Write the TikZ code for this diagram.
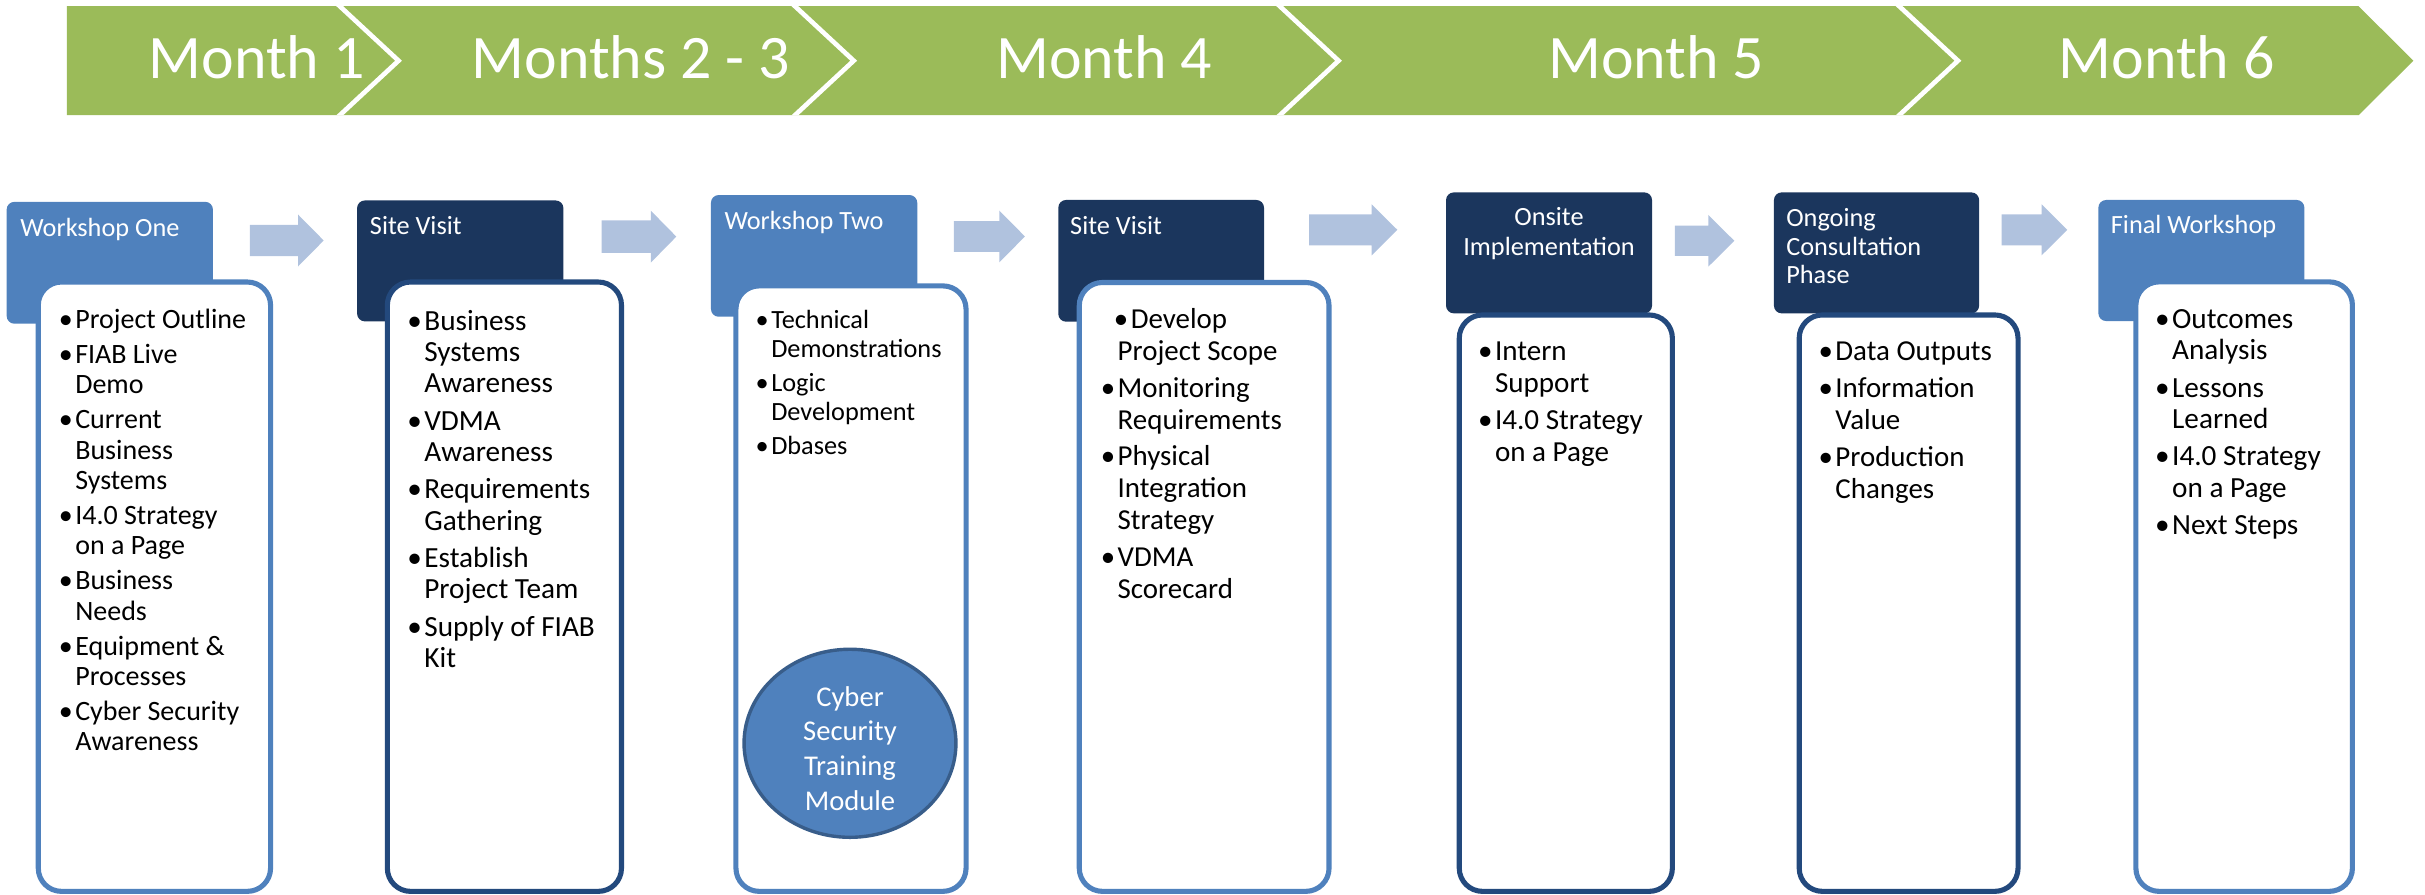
\documentclass[tikz,border=0pt]{standalone}
\usepackage{fontspec}
\setmainfont{Carlito}
\usetikzlibrary{shapes.geometric}
\definecolor{bannergreen}{HTML}{9BBB59}
\definecolor{midblue}{HTML}{4F81BD}
\definecolor{navyhead}{HTML}{1B365D}
\definecolor{navyline}{HTML}{23497D}
\definecolor{arrowblue}{HTML}{B0C2DE}
\definecolor{ellline}{HTML}{385D8A}
\newcommand\itm{\noindent\llap{•\kern1.6pt}}
\newcommand\itemsbox[4]{\parbox[t]{200pt}{\fontsize{#1}{#2}\selectfont\setlength\parskip{#3}#4}}
\newcommand\blockarr[6]{\fill[arrowblue] (#1,#4-#5) -- (#2,#4-#5) -- (#2,#4-#6) -- (#3,#4) -- (#2,#4+#6) -- (#2,#4+#5) -- (#1,#4+#5) -- cycle;}
\tikzset{
  headbox/.style={rounded corners=5pt},
  contentbox/.style={line width=3.3pt, fill=white, rounded corners=15pt},
  htext/.style={anchor=base west, inner sep=0pt, text=white, font=\fontsize{17}{18.5}\selectfont},
  btext/.style={anchor=base west, inner sep=0pt, text=black},
  month/.style={anchor=base, inner sep=0pt, text=white, font=\fontsize{40}{48}\selectfont},
}
\begin{document}
\begin{tikzpicture}[x=1pt,y=-1pt]
\useasboundingbox (0,0) rectangle (1568,578.7);

% ---------- banner ----------
\begin{scope}
\path[fill=bannergreen] (43.3,4) -- (1525,4) -- (1560.5,39.25) -- (1525,74.5) -- (43.3,74.5) -- cycle;
\clip (43.3,4) -- (1525,4) -- (1560.5,39.25) -- (1525,74.5) -- (43.3,74.5) -- cycle;
\foreach \t in {257.7,552,865.5,1266}
  \draw[white, line width=3pt] (\t-42.3,0) -- (\t,39.25) -- (\t-42.3,78.5);
\end{scope}
\node[month] (m1) at (166,51) {Month 1};
\node[month] (m23) at (408,51) {Months 2 - 3};
\node[month] (m4) at (714,51) {Month 4};
\node[month] (m5) at (1071,51) {Month 5};
\node[month] (m6) at (1401,51) {Month 6};

% ---------- arrows ----------
\blockarr{161.6}{192.8}{209.3}{155.5}{10.15}{16.7}
\blockarr{389}{420.8}{437.3}{153.0}{10.55}{16.8}
\blockarr{616.8}{646.2}{662.7}{152.9}{10}{16.7}
\blockarr{846.4}{886.9}{903.5}{148.6}{10}{16.5}
\blockarr{1083}{1104.6}{1121.4}{155.7}{9.8}{16.7}
\blockarr{1294.2}{1320.1}{1336.7}{148.6}{10}{16.5}

% ---------- stage 1 ----------
\fill[midblue, headbox] (4.3,130.5) rectangle (137.7,209.3);
\node[htext] (h1) at (13,153.2) {Workshop One};
\draw[contentbox, draw=midblue] (24.75,182.35) rectangle (174.95,576.35);
\node[btext] (b1) at (48.5,212.2) {\itemsbox{18.1}{19.5}{3.3pt}{%
\itm Project Outline\par
\itm FIAB Live\\Demo\par
\itm Current\\Business\\Systems\par
\itm I4.0 Strategy\\on a Page\par
\itm Business\\Needs\par
\itm Equipment \&\\Processes\par
\itm Cyber Security\\Awareness}};

% ---------- stage 2 ----------
\fill[navyhead, headbox] (230.9,129.6) rectangle (364.3,207.8);
\node[htext] (h2) at (239,151.8) {Site Visit};
\draw[contentbox, draw=navyline] (250.45,182.35) rectangle (401.85,576.35);
\node[btext] (b2) at (274.2,213.7) {\itemsbox{18.9}{20.15}{4.05pt}{%
\itm Business\\Systems\\Awareness\par
\itm VDMA\\Awareness\par
\itm Requirements\\Gathering\par
\itm Establish\\Project Team\par
\itm Supply of FIAB\\Kit}};

% ---------- stage 3 ----------
\fill[midblue, headbox] (459.7,126.1) rectangle (593.1,204.8);
\node[htext] (h3) at (468.3,148.3) {Workshop Two};
\draw[contentbox, draw=midblue] (475.85,184.85) rectangle (624.65,576.35);
\node[btext] (b3) at (498.5,212.7) {\itemsbox{17}{18.7}{3.05pt}{%
\itm Technical\\Demonstrations\par
\itm Logic\\Development\par
\itm Dbases}};
\node[ellipse, draw=ellline, line width=2.2pt, fill=midblue, minimum width=137pt, minimum height=121.6pt, inner sep=0pt] (cyber) at (549.6,480.6) {};
\node[anchor=base, inner sep=0pt, text=white] (cybert) at (549.6,456.5) {\parbox[t]{120pt}{\centering\fontsize{18.5}{22.6}\selectfont Cyber\\Security\\Training\\Module}};

% ---------- stage 4 ----------
\fill[navyhead, headbox] (684.3,129.3) rectangle (817.3,208);
\node[htext] (h4) at (691.8,151.3) {Site Visit};
\draw[contentbox, draw=midblue] (697.85,182.65) rectangle (859.35,576.35);
\node[btext] (b4) at (722.5,212.7) {\itemsbox{18.7}{20.6}{3.1pt}{%
\noindent\hspace*{8.5pt}\llap{•\kern1.6pt}Develop\\Project Scope\par
\itm Monitoring\\Requirements\par
\itm Physical\\Integration\\Strategy\par
\itm VDMA\\Scorecard}};

% ---------- stage 5 ----------
\fill[navyhead, headbox] (935,124.4) rectangle (1068.2,202.6);
\node[anchor=base, inner sep=0pt, text=white] (h5) at (1001.6,145.9) {\parbox[t]{130pt}{\centering\fontsize{17}{19}\selectfont Onsite\\Implementation}};
\draw[contentbox, draw=navyline] (943.55,203.65) rectangle (1081.35,576.35);
\node[btext] (b5) at (966.5,233.4) {\itemsbox{18.8}{20.4}{3.5pt}{%
\itm Intern\\Support\par
\itm I4.0 Strategy\\on a Page}};

% ---------- stage 6 ----------
\fill[navyhead, headbox] (1147,124.4) rectangle (1279.7,202.6);
\node[anchor=base west, inner sep=0pt, text=white] (h6) at (1154.8,146.6) {\parbox[t]{125pt}{\raggedright\fontsize{17}{18.3}\selectfont Ongoing\\Consultation\\Phase}};
\draw[contentbox, draw=navyline] (1163.35,203.65) rectangle (1304.85,576.35);
\node[btext] (b6) at (1186.6,233.4) {\itemsbox{18.7}{20.6}{3.2pt}{%
\itm Data Outputs\par
\itm Information\\Value\par
\itm Production\\Changes}};

% ---------- stage 7 ----------
\fill[midblue, headbox] (1356.8,129.3) rectangle (1490,207.6);
\node[htext] (h7) at (1364.7,150.9) {Final Workshop};
\draw[contentbox, draw=midblue] (1381.05,182.25) rectangle (1521.05,576.35);
\node[btext] (b7) at (1404.3,212.3) {\itemsbox{18.9}{20.1}{4.3pt}{%
\itm Outcomes\\Analysis\par
\itm Lessons\\Learned\par
\itm I4.0 Strategy\\on a Page\par
\itm Next Steps}};
\end{tikzpicture}
\end{document}
